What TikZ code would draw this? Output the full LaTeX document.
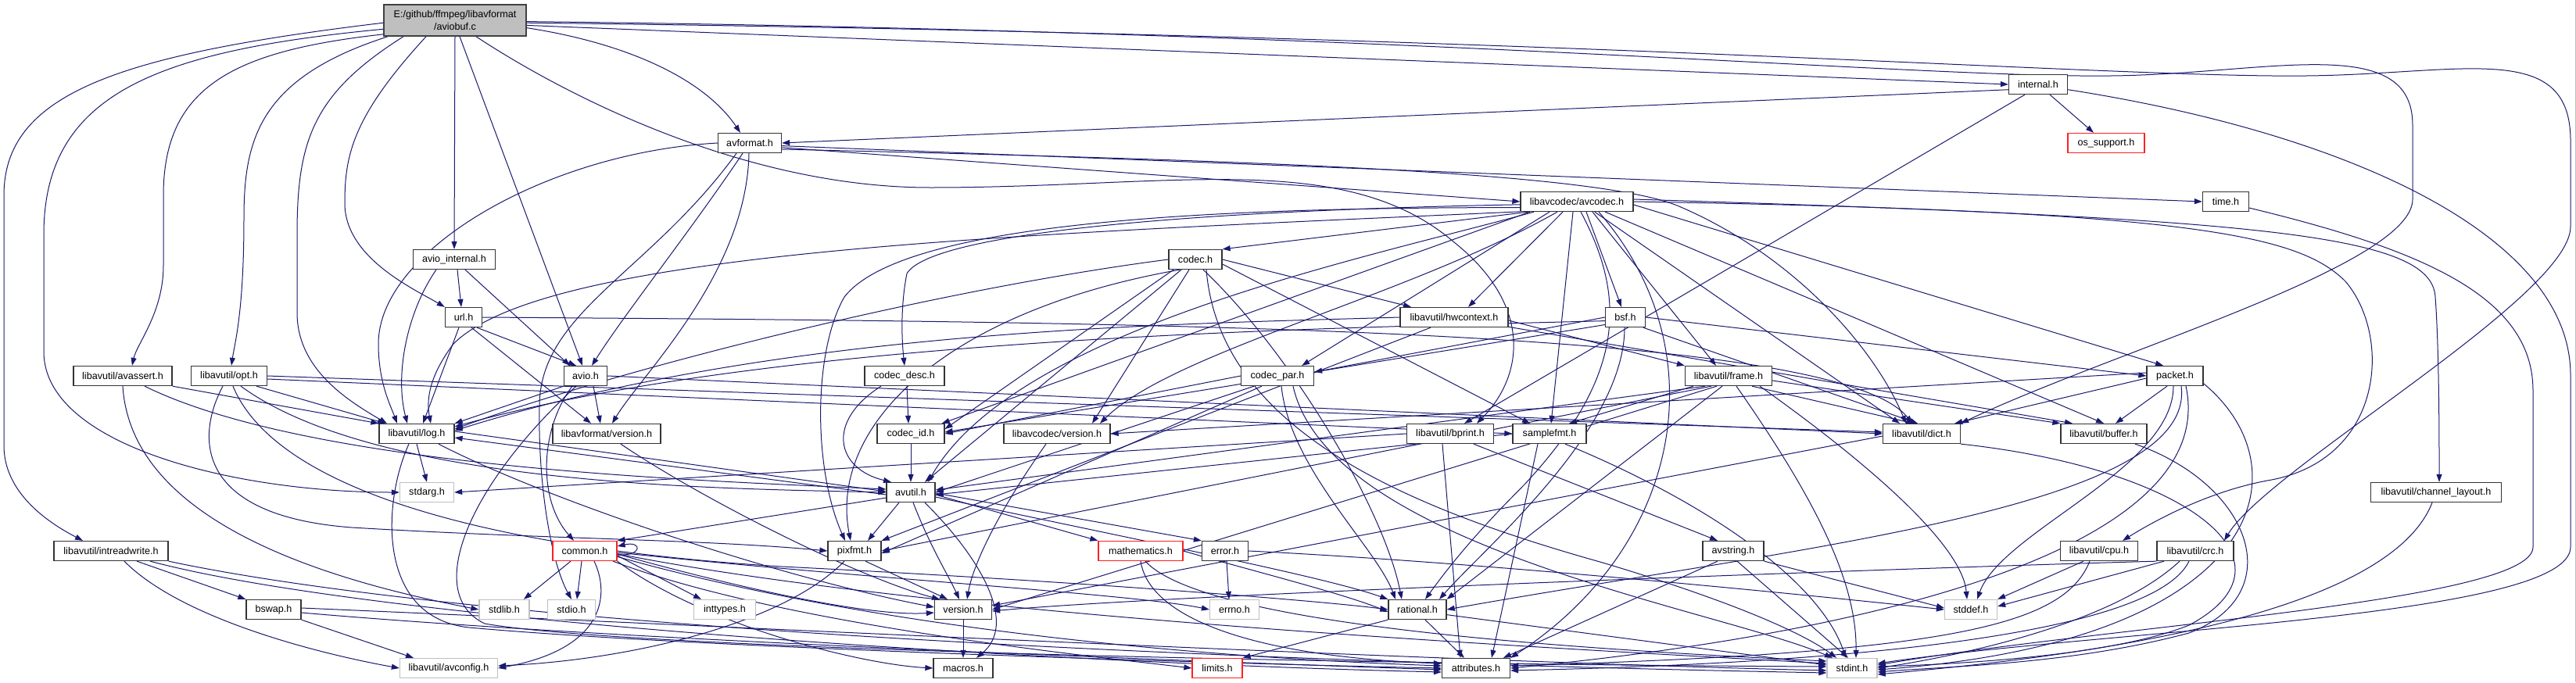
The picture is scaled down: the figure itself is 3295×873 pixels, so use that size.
\documentclass[tikz,border=0pt]{standalone}
\usepackage{fontspec}
\newfontfamily\hfont{Liberation Sans}
\usetikzlibrary{arrows.meta}
\definecolor{edgec}{HTML}{191970}
\definecolor{mainfill}{HTML}{BFBFBF}
\definecolor{grayb}{HTML}{BFBFBF}
\definecolor{redb}{HTML}{FF2020}
\pgfdeclarelayer{bglayer}
\pgfdeclarelayer{edgelayer}
\pgfsetlayers{bglayer,edgelayer,main}
\tikzset{
  hdr/.style={draw=black!80, line width=1.3pt, fill=white, minimum height=25pt, inner sep=0pt,
    font=\hfont\fontsize{12.6pt}{15.7pt}\selectfont},
  sysh/.style={hdr, draw=grayb},
  trunc/.style={hdr, draw=redb},
  mainn/.style={hdr, fill=mainfill, draw=black!75, line width=1.6pt, minimum height=40pt, align=center},
  e/.style={draw=edgec, line width=1pt, -{Triangle[length=10pt,width=7pt]}}
}
\begin{document}
\begin{tikzpicture}[x=1pt,y=-1pt]
\useasboundingbox (0,0) rectangle (3295,873);
\begin{pgfonlayer}{bglayer}
\fill[white] (0,0) rectangle (3295,873);
\draw[grayb, line width=1pt] (3294,0) -- (3294,873);
\end{pgfonlayer}
% nodes
\node[mainn,minimum width=182pt] (aviobuf) at (582,26) {E:/github/ffmpeg/libavformat\\/aviobuf.c};
\node[hdr,minimum width=75pt] (internal) at (2607,108) {internal.h};
\node[trunc,minimum width=98pt] (ossupport) at (2694,183) {os\_support.h};
\node[hdr,minimum width=81pt] (avformat) at (959,183) {avformat.h};
\node[hdr,minimum width=144pt] (avcodec) at (2017,258) {libavcodec/avcodec.h};
\node[hdr,minimum width=59pt] (timeh) at (2847,258) {time.h};
\node[hdr,minimum width=105pt] (aviointernal) at (581,332) {avio\_internal.h};
\node[hdr,minimum width=68pt] (codec) at (1529,332) {codec.h};
\node[hdr,minimum width=47pt] (url) at (593,406) {url.h};
\node[hdr,minimum width=138pt] (hwcontext) at (1860,406) {libavutil/hwcontext.h};
\node[hdr,minimum width=51pt] (bsf) at (2079,406) {bsf.h};
\node[hdr,minimum width=126pt] (avassert) at (157,481) {libavutil/avassert.h};
\node[hdr,minimum width=97pt] (opt) at (293,481) {libavutil/opt.h};
\node[hdr,minimum width=55pt] (avio) at (749,481) {avio.h};
\node[hdr,minimum width=102pt] (codecdesc) at (1157,481) {codec\_desc.h};
\node[hdr,minimum width=93pt] (codecpar) at (1634,481) {codec\_par.h};
\node[hdr,minimum width=111pt] (frame) at (2211,481) {libavutil/frame.h};
\node[hdr,minimum width=72pt] (packet) at (2782,481) {packet.h};
\node[hdr,minimum width=96pt] (log) at (533,555) {libavutil/log.h};
\node[hdr,minimum width=138pt] (lavfver) at (776,555) {libavformat/version.h};
\node[hdr,minimum width=86pt] (codecid) at (1165,555) {codec\_id.h};
\node[hdr,minimum width=136pt] (lavcver) at (1352,555) {libavcodec/version.h};
\node[hdr,minimum width=111pt] (bprint) at (1855,555) {libavutil/bprint.h};
\node[hdr,minimum width=94pt] (samplefmt) at (1982,555) {samplefmt.h};
\node[hdr,minimum width=99pt] (dict) at (2458,555) {libavutil/dict.h};
\node[hdr,minimum width=110pt] (buffer) at (2691,555) {libavutil/buffer.h};
\node[sysh,minimum width=69pt] (stdarg) at (546,630) {stdarg.h};
\node[hdr,minimum width=62pt] (avutil) at (1165,630) {avutil.h};
\node[hdr,minimum width=167pt] (chlayout) at (3116,630) {libavutil/channel\_layout.h};
\node[hdr,minimum width=146pt] (intrw) at (142,705) {libavutil/intreadwrite.h};
\node[trunc,minimum width=82pt] (common) at (748,705) {common.h};
\node[hdr,minimum width=68pt] (pixfmt) at (1093,705) {pixfmt.h};
\node[trunc,minimum width=108pt] (mathh) at (1459,705) {mathematics.h};
\node[hdr,minimum width=59pt] (error) at (1567,705) {error.h};
\node[hdr,minimum width=78pt] (avstring) at (2217,705) {avstring.h};
\node[hdr,minimum width=99pt] (cpu) at (2685,705) {libavutil/cpu.h};
\node[hdr,minimum width=98pt] (crc) at (2808,705) {libavutil/crc.h};
\node[hdr,minimum width=70pt] (bswap) at (350,780) {bswap.h};
\node[sysh,minimum width=64pt] (stdlib) at (645,780) {stdlib.h};
\node[sysh,minimum width=61pt] (stdio) at (731,780) {stdio.h};
\node[sysh,minimum width=79pt] (inttypes) at (927,780) {inttypes.h};
\node[hdr,minimum width=73pt] (version) at (1232,780) {version.h};
\node[sysh,minimum width=63pt] (errno) at (1579,780) {errno.h};
\node[hdr,minimum width=74pt] (rational) at (1813,780) {rational.h};
\node[sysh,minimum width=67pt] (stddef) at (2521,780) {stddef.h};
\node[sysh,minimum width=125pt] (avconfig) at (574,855) {libavutil/avconfig.h};
\node[hdr,minimum width=76pt] (macros) at (1232,855) {macros.h};
\node[trunc,minimum width=64pt] (limits) at (1557,855) {limits.h};
\node[hdr,minimum width=87pt] (attributes) at (1888,855) {attributes.h};
\node[sysh,minimum width=64pt] (stdint) at (2369,855) {stdint.h};

\begin{pgfonlayer}{edgelayer}
% aviobuf.c
\draw[e] (aviobuf.182) .. controls (150,70) and (5,120) .. (5,250) -- (5,570) .. controls (5,630) and (60,668) .. ([xshift=-36pt]intrw.north);
\draw[e] (aviobuf.187) .. controls (200,65) and (56,120) .. (56,300) -- (56,450) .. controls (56,570) and (300,630) .. (stdarg.west);
\draw[e] (aviobuf.191) .. controls (300,65) and (209,110) .. (209,250) -- (209,340) .. controls (209,400) and (175,440) .. ([xshift=12pt]avassert.north);
\draw[e] ([xshift=-86pt]aviobuf.south) .. controls (330,100) and (312,180) .. (312,280) .. controls (312,400) and (300,440) .. ([xshift=3pt]opt.north);
\draw[e] ([xshift=-66pt]aviobuf.south) .. controls (400,120) and (380,180) .. (380,300) -- (380,400) .. controls (380,470) and (440,510) .. ([xshift=-38pt]log.north);
\draw[e] ([xshift=-37pt]aviobuf.south) .. controls (450,150) and (441,200) .. (441,260) .. controls (441,330) and (530,370) .. (url.north west);
\draw[e] (aviobuf.south) -- (aviointernal.north);
\draw[e] ([xshift=6pt]aviobuf.south) -- ([xshift=-4pt]avio.north);
\draw[e] ([xshift=27pt]aviobuf.south) .. controls (720,120) and (950,240) .. (1190,240) .. controls (1500,240) and (1720,190) .. (1860,310) .. controls (1960,390) and (1950,480) .. ([xshift=34pt]bprint.north);
\draw[e] (aviobuf.-6) .. controls (800,55) and (900,100) .. ([xshift=-12pt]avformat.north);
\draw[e] (aviobuf.-4) -- (internal.west);
\draw[e] (aviobuf.-1) .. controls (1800,40) and (2450,100) .. (2700,97) .. controls (2900,95) and (3086,40) .. (3086,160) -- (3086,255) .. controls (3086,340) and (2700,450) .. (dict.north east);
\draw[e] (aviobuf.-2) .. controls (2000,45) and (2700,100) .. (2950,97) .. controls (3150,95) and (3288,50) .. (3288,180) -- (3288,290) .. controls (3288,380) and (2900,600) .. ([xshift=37pt]crc.north);
% internal.h
\draw[e] (internal.190) -- (avformat.east);
\draw[e] ([xshift=15pt]internal.south) -- ([xshift=-16pt]ossupport.north);
\draw[e] ([xshift=-17pt]internal.south) -- ([xshift=18pt]bprint.north);
\draw[e] (internal.-10) .. controls (3000,170) and (3288,300) .. (3288,480) -- (3288,700) .. controls (3288,790) and (2700,805) .. ([yshift=6pt]stdint.east);
% avformat.h
\draw[e] (avformat.-5) -- (timeh.west);
\draw[e] (avformat.-8) -- (avcodec.west);
\draw[e] (avformat.-11) .. controls (1600,205) and (2050,220) .. (2150,265) .. controls (2300,330) and (2400,450) .. ([xshift=-20pt]dict.north);
\draw[e] (avformat.west) .. controls (700,195) and (484,320) .. (484,440) .. controls (484,490) and (500,520) .. ([xshift=-25pt]log.north);
\draw[e] ([xshift=-17pt]avformat.south) .. controls (830,350) and (690,400) .. (690,520) .. controls (688,620) and (705,720) .. (stdio.north);
\draw[e] ([xshift=-9pt]avformat.south) .. controls (880,300) and (800,400) .. ([xshift=8pt]avio.north);
\draw[e] ([xshift=-1pt]avformat.south) .. controls (955,350) and (820,480) .. ([xshift=7pt]lavfver.north);
% avio_internal.h
\draw[e] ([xshift=4pt]aviointernal.south) -- ([xshift=-3pt]url.north);
\draw[e] ([xshift=-23pt]aviointernal.south) .. controls (520,400) and (505,480) .. ([xshift=-12pt]log.north);
\draw[e] ([xshift=14pt]aviointernal.south) -- ([xshift=-20pt]avio.north);
% url.h
\draw[e] (url.east) .. controls (1500,412) and (2350,420) .. ([xshift=-12pt]dict.north);
\draw[e] ([xshift=-6pt]url.south) -- ([xshift=8pt]log.north);
\draw[e] ([xshift=10pt]url.south) -- ([xshift=-20pt]lavfver.north);
\draw[e] ([xshift=17pt]url.south) -- ([xshift=-12pt]avio.north);
% avio.h
\draw[e] (avio.south west) -- (log.north east);
\draw[e] ([xshift=10pt]avio.south) -- ([xshift=-8pt]lavfver.north);
\draw[e] ([xshift=-17pt]avio.south) .. controls (690,550) and (688,640) .. ([xshift=-14pt]common.north);
\draw[e] ([xshift=-12pt]avio.south) .. controls (600,620) and (540,760) .. (620,798) .. controls (800,830) and (1700,850) .. ([yshift=2pt]stdint.west);
\draw[e] (avio.east) -- (dict.west);
% avassert.h
\draw[e] (avassert.south east) -- (log.north west);
\draw[e] (avassert.south) .. controls (165,620) and (300,720) .. (stdlib.west);
\draw[e] ([xshift=28pt]avassert.south) .. controls (400,600) and (900,615) .. ([yshift=4pt]avutil.west);
% opt.h
\draw[e] ([xshift=35pt]opt.south) -- ([xshift=-40pt]log.north);
\draw[e] (opt.east) -- ([yshift=2pt]dict.west);
\draw[e] ([yshift=-4pt]opt.east) -- (samplefmt.west);
\draw[e] ([xshift=15pt]opt.south) .. controls (480,620) and (900,625) .. (avutil.west);
\draw[e] ([xshift=-8pt]opt.south) .. controls (250,560) and (250,660) .. (450,675) .. controls (700,690) and (900,690) .. (pixfmt.west);
\draw[e] ([xshift=5pt]opt.south) .. controls (350,620) and (600,700) .. (1000,725) .. controls (1400,745) and (1700,770) .. (rational.west);
% log.h
\draw[e] (log.south) -- (stdarg.north);
\draw[e] ([yshift=3pt]log.east) -- ([yshift=1pt]avutil.west);
\draw[e] ([xshift=-10pt]log.south) .. controls (490,640) and (480,790) .. (600,803) .. controls (900,830) and (1600,850) .. (attributes.west);
\draw[e] ([xshift=28pt]log.south) .. controls (700,640) and (1000,740) .. ([yshift=3pt]version.west);
% avutil.h
\draw[e] ([yshift=-3pt]avutil.west) -- ([yshift=-5pt]log.east);
\draw[e] ([xshift=-15pt]avutil.south) -- ([xshift=17pt]pixfmt.north);
\draw[e] ([xshift=3pt]avutil.south) .. controls (1190,700) and (1215,740) .. ([xshift=-5pt]version.north);
\draw[e] ([xshift=18pt]avutil.south) .. controls (1260,720) and (1300,800) .. ([xshift=17pt]macros.north);
\draw[e] ([yshift=-3pt]avutil.east) -- (mathh.north west);
\draw[e] ([yshift=-1pt]avutil.east) -- (error.north west);
\draw[e] ([yshift=-6pt]avutil.east) .. controls (1500,700) and (1700,740) .. (rational.north west);
\draw[e] ([yshift=-7pt]avutil.west) -- (common.north east);
% common.h
\draw[e] ([xshift=-18pt]common.south) -- ([xshift=25pt]stdlib.north);
\draw[e] ([xshift=-4pt]common.south) -- ([xshift=7pt]stdio.north);
\draw[e] ([xshift=12pt]common.south) .. controls (780,760) and (775,830) .. (avconfig.east);
\draw[e] ([yshift=-6pt]common.east) -- ([xshift=-30pt]inttypes.north);
\draw[e] ([yshift=-4pt]common.east) .. controls (900,740) and (1100,790) .. ([yshift=-4pt]version.west);
\draw[e] (common.south east) .. controls (900,800) and (1100,850) .. (macros.west);
\draw[e] ([yshift=-2pt]common.east) .. controls (1100,740) and (1450,760) .. (errno.west);
\draw[e] (common.-20) .. controls (1000,800) and (1400,840) .. (limits.west);
\draw[e] (common.-10) .. controls (1100,800) and (1500,840) .. ([yshift=3pt]attributes.west);
\draw[e] (common.-5) .. controls (1200,790) and (2000,830) .. ([yshift=6pt]stdint.west);
\draw[e] ([yshift=-5pt]common.east) .. controls (822,712) and (822,692) .. ([yshift=6pt]common.east);
% mathematics.h
\draw[e] (mathh.east) .. controls (1600,730) and (1720,760) .. ([yshift=-3pt]rational.west);
\draw[e] (mathh.south) .. controls (1470,790) and (1600,840) .. ([yshift=6pt]attributes.west);
\draw[e] ([xshift=6pt]mathh.south) .. controls (1540,800) and (2000,830) .. ([yshift=9pt]stdint.west);
% error.h
\draw[e] ([xshift=2pt]error.south) -- ([xshift=-7pt]errno.north);
\draw[e] (error.east) .. controls (1900,720) and (2300,760) .. (stddef.west);
% pixfmt.h
\draw[e] ([xshift=14pt]pixfmt.south) -- ([xshift=-20pt]version.north);
\draw[e] ([xshift=-13pt]pixfmt.south) .. controls (1000,800) and (800,845) .. ([yshift=3pt]avconfig.east);
% version.h family
\draw[e] (version.south) -- (macros.north);
\draw[e] ([xshift=18pt]lavfver.south) .. controls (900,640) and (1100,740) .. ([xshift=-30pt]version.north);
\draw[e] ([xshift=-14pt]lavcver.south) .. controls (1280,650) and (1245,720) .. ([xshift=5pt]version.north);
% codec_desc / codec_id
\draw[e] ([xshift=3pt]codecdesc.south) -- ([xshift=-3pt]codecid.north);
\draw[e] ([xshift=-30pt]codecdesc.south) .. controls (1055,540) and (1070,600) .. ([xshift=-25pt]avutil.north);
\draw[e] (codecid.south) -- (avutil.north);
% codec.h
\draw[e] (codec.west) .. controls (1200,370) and (800,470) .. ([yshift=6pt]log.east);
\draw[e] ([xshift=-20pt]codec.south) .. controls (1200,400) and (1060,550) .. ([xshift=-5pt]pixfmt.north);
\draw[e] (codec.east) -- ([xshift=-55pt]hwcontext.north);
\draw[e] ([yshift=-6pt]codec.east) -- ([xshift=-25pt]samplefmt.north);
\draw[e] ([xshift=10pt]codec.south) .. controls (1650,450) and (1770,650) .. ([xshift=-20pt]rational.north);
\draw[e] ([xshift=14pt]codec.south) .. controls (1560,550) and (1800,650) .. (2050,720) .. controls (2250,780) and (2320,820) .. ([xshift=-20pt]stdint.north);
\draw[e] ([xshift=-28pt]codec.south) -- ([yshift=6pt]codecid.east);
\draw[e] ([xshift=-8pt]codec.south) -- ([xshift=45pt]lavcver.north);
\draw[e] ([xshift=-18pt]codec.south) -- ([xshift=18pt]avutil.north);
% avcodec.h
\draw[e] (avcodec.192) -- (codec.north east);
\draw[e] ([xshift=-18pt]avcodec.south) -- ([xshift=18pt]hwcontext.north);
\draw[e] ([xshift=-25pt]avcodec.south) .. controls (1800,380) and (1500,450) .. ([xshift=55pt]lavcver.north);
\draw[e] ([xshift=12pt]avcodec.south) -- ([xshift=-5pt]bsf.north);
\draw[e] ([xshift=-5pt]avcodec.south) -- ([xshift=2pt]samplefmt.north);
\draw[e] ([xshift=20pt]avcodec.south) -- ([xshift=-16pt]frame.north);
\draw[e] ([yshift=-4pt]avcodec.east) -- ([xshift=-15pt]packet.north);
\draw[e] (avcodec.-20) -- (buffer.north);
\draw[e] (avcodec.-30) -- ([xshift=-28pt]dict.north);
\draw[e] (avcodec.east) .. controls (2800,270) and (2940,300) .. (3000,360) .. controls (3060,430) and (3050,590) .. (2900,615) .. controls (2820,630) and (2750,670) .. ([xshift=30pt]cpu.north);
\draw[e] ([yshift=3pt]avcodec.east) .. controls (2900,280) and (3110,300) .. (3115,380) .. controls (3120,450) and (3120,560) .. ([xshift=4pt]chlayout.north);
\draw[e] (avcodec.190) .. controls (1300,300) and (700,320) .. (580,440) .. controls (550,480) and (545,510) .. ([xshift=18pt]log.north);
\draw[e] (avcodec.186) .. controls (1500,265) and (1150,290) .. (1080,380) .. controls (1040,450) and (1040,600) .. ([xshift=-12pt]pixfmt.north);
\draw[e] (avcodec.183) .. controls (1500,270) and (1190,300) .. (1160,350) .. controls (1150,400) and (1155,450) .. (codecdesc.north);
\draw[e] ([xshift=-60pt]avcodec.south) -- ([xshift=-4pt]codecid.north east);
\draw[e] ([xshift=-55pt]avcodec.south) .. controls (1750,330) and (1300,420) .. ([xshift=22pt]avutil.north);
\draw[e] ([xshift=-35pt]avcodec.south) -- ([xshift=-16pt]codecpar.north east);
\draw[e] ([xshift=5pt]avcodec.south) .. controls (2080,380) and (2080,480) .. (1950,620) .. controls (1880,690) and (1850,730) .. ([xshift=10pt]rational.north);
\draw[e] ([xshift=28pt]avcodec.south) .. controls (2200,450) and (2150,700) .. (attributes.north east);
% bsf.h
\draw[e] (bsf.east) -- (packet.west);
\draw[e] (bsf.-30) -- ([xshift=-5pt]dict.north);
\draw[e] (bsf.west) -- ([yshift=5pt]codecpar.east);
\draw[e] (bsf.200) -- ([yshift=2pt]codecid.east);
\draw[e] (bsf.190) .. controls (1700,420) and (1000,430) .. ([yshift=9pt]log.east);
\draw[e] ([xshift=-1pt]bsf.south) .. controls (2078,550) and (1900,700) .. ([xshift=28pt]rational.north);
% hwcontext.h
\draw[e] ([yshift=-4pt]hwcontext.east) -- (frame.north west);
\draw[e] (hwcontext.-10) -- ([xshift=-40pt]buffer.north);
\draw[e] (hwcontext.west) .. controls (1500,415) and (1000,420) .. ([yshift=4pt]log.east);
\draw[e] ([xshift=-30pt]hwcontext.south) -- (pixfmt.north east);
% codec_par.h
\draw[e] (codecpar.west) -- (codecid.east);
\draw[e] ([xshift=-30pt]codecpar.south) -- (avutil.east);
\draw[e] ([xshift=-20pt]codecpar.south) -- ([yshift=-3pt]pixfmt.east);
\draw[e] ([xshift=5pt]codecpar.south) .. controls (1650,600) and (1760,700) .. ([xshift=-28pt]rational.north);
\draw[e] ([xshift=20pt]codecpar.south) .. controls (1700,700) and (2200,780) .. ([xshift=-25pt]stdint.north);
% frame.h
\draw[e] ([xshift=-45pt]frame.south) -- ([xshift=25pt]samplefmt.north);
\draw[e] ([xshift=30pt]frame.south) -- ([xshift=-10pt]dict.north);
\draw[e] ([yshift=-6pt]frame.east) -- (buffer.north west);
\draw[e] ([xshift=-30pt]frame.south) -- ([yshift=3pt]avutil.east);
\draw[e] ([xshift=-22pt]frame.south) -- (pixfmt.east);
\draw[e] ([xshift=-15pt]frame.south) -- (version.east);
\draw[e] ([xshift=-8pt]frame.south) -- (rational.north east);
\draw[e] ([xshift=10pt]frame.south) .. controls (2330,650) and (2375,750) .. ([xshift=5pt]stdint.north);
\draw[e] ([xshift=40pt]frame.south) .. controls (2400,600) and (2510,700) .. ([xshift=-5pt]stddef.north);
% packet.h
\draw[e] ([yshift=-3pt]packet.west) -- ([xshift=-8pt]dict.north east);
\draw[e] ([xshift=-10pt]packet.south) -- ([xshift=15pt]buffer.north);
\draw[e] ([yshift=4pt]packet.west) -- (lavcver.east);
\draw[e] ([xshift=-2pt]packet.south) .. controls (2780,600) and (2560,680) .. ([xshift=8pt]stddef.north);
\draw[e] ([xshift=8pt]packet.south) .. controls (2810,650) and (2300,700) .. (rational.east);
\draw[e] ([xshift=14pt]packet.south) .. controls (2840,700) and (2400,810) .. (attributes.east);
\draw[e] (packet.-15) .. controls (2950,600) and (2900,820) .. ([yshift=-2pt]stdint.east);
% samplefmt.h
\draw[e] (samplefmt.west) -- ([yshift=-3pt]avutil.east);
\draw[e] ([xshift=-15pt]samplefmt.south) -- ([xshift=20pt]attributes.north);
\draw[e] ([xshift=20pt]samplefmt.south) .. controls (2200,650) and (2330,750) .. ([xshift=-8pt]stdint.north);
% bprint.h
\draw[e] (bprint.west) -- (stdarg.east);
\draw[e] ([xshift=-10pt]bprint.south) -- ([xshift=-20pt]attributes.north);
\draw[e] ([xshift=30pt]bprint.south) -- ([xshift=-20pt]avstring.north);
% dict.h
\draw[e] ([yshift=-3pt]dict.west) -- ([yshift=5pt]version.east);
\draw[e] (dict.south east) .. controls (2800,600) and (2950,720) .. (2800,800) .. controls (2700,840) and (2500,850) .. ([yshift=2pt]stdint.east);
% buffer.h
\draw[e] ([xshift=40pt]buffer.south) .. controls (2880,620) and (2930,760) .. (2800,810) .. controls (2650,850) and (2500,852) .. ([yshift=-5pt]stdint.east);
% avstring.h
\draw[e] (avstring.south east) -- ([yshift=2pt]stddef.west);
\draw[e] ([xshift=5pt]avstring.south) -- ([xshift=-5pt]stdint.north);
\draw[e] ([xshift=-20pt]avstring.south) -- ([xshift=35pt]attributes.north);
% cpu.h
\draw[e] ([xshift=-20pt]cpu.south) -- (stddef.north east);
\draw[e] ([xshift=-12pt]cpu.south) .. controls (2640,800) and (2500,835) .. ([yshift=3pt]attributes.east);
% crc.h
\draw[e] (crc.south west) .. controls (2500,725) and (1500,760) .. ([yshift=-2pt]version.east);
\draw[e] ([xshift=-40pt]crc.south) -- ([yshift=4pt]stddef.east);
\draw[e] ([xshift=-20pt]crc.south) .. controls (2700,800) and (2500,840) .. (stdint.east);
\draw[e] ([xshift=-8pt]crc.south) .. controls (2750,820) and (2300,850) .. ([yshift=-3pt]attributes.east);
% channel_layout.h, time.h
\draw[e] ([xshift=-5pt]chlayout.south) .. controls (3050,800) and (2600,845) .. ([yshift=-8pt]stdint.east);
\draw[e] (timeh.-15) .. controls (3100,320) and (3240,380) .. (3240,500) -- (3240,700) .. controls (3240,770) and (2700,800) .. ([yshift=4pt]stdint.east);
% rational.h
\draw[e] ([xshift=10pt]rational.south) -- ([xshift=-15pt]attributes.north);
\draw[e] (rational.south west) -- (limits.north east);
\draw[e] (rational.-10) -- ([yshift=4pt]stdint.west);
% intreadwrite.h
\draw[e] ([xshift=33pt]intrw.south) -- (bswap.north west);
\draw[e] ([xshift=17pt]intrw.south) .. controls (230,790) and (400,835) .. (avconfig.west);
\draw[e] (intrw.south east) .. controls (600,800) and (1500,845) .. ([yshift=-6pt]stdint.west);
\draw[e] ([xshift=50pt]intrw.south) .. controls (500,800) and (1400,850) .. ([yshift=-5pt]attributes.west);
% bswap.h
\draw[e] (bswap.south east) -- ([xshift=-45pt]avconfig.north);
\draw[e] ([yshift=-4pt]bswap.east) .. controls (800,820) and (1500,845) .. ([yshift=-2pt]attributes.west);
\draw[e] ([yshift=2pt]bswap.east) .. controls (900,800) and (1800,845) .. ([yshift=-3pt]stdint.west);
\end{pgfonlayer}
\end{tikzpicture}
\end{document}
